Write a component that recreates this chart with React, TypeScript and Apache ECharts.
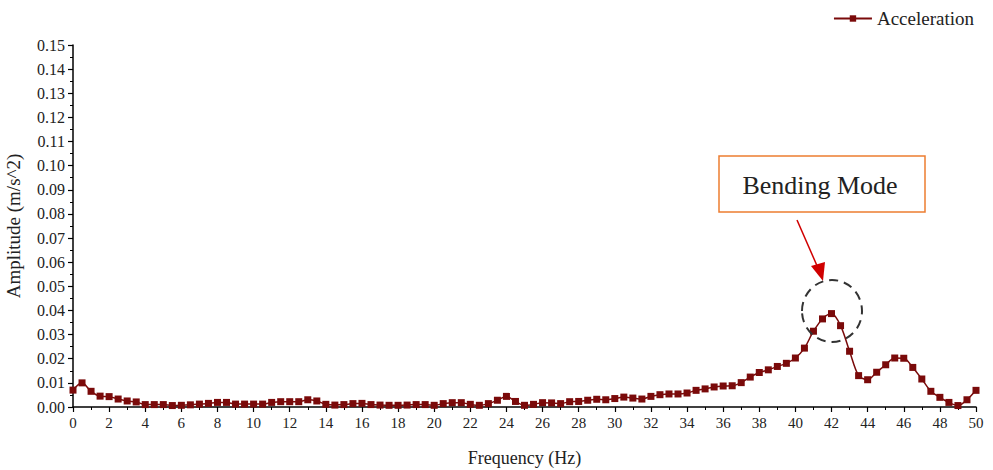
import React, { useEffect, useRef } from "react";
import * as echarts from "echarts";

const frequencies = [
  0, 0.5, 1, 1.5, 2, 2.5, 3, 3.5, 4, 4.5, 5, 5.5, 6, 6.5, 7, 7.5, 8, 8.5, 9, 9.5,
  10, 10.5, 11, 11.5, 12, 12.5, 13, 13.5, 14, 14.5, 15, 15.5, 16, 16.5, 17, 17.5, 18, 18.5, 19, 19.5,
  20, 20.5, 21, 21.5, 22, 22.5, 23, 23.5, 24, 24.5, 25, 25.5, 26, 26.5, 27, 27.5, 28, 28.5, 29, 29.5,
  30, 30.5, 31, 31.5, 32, 32.5, 33, 33.5, 34, 34.5, 35, 35.5, 36, 36.5, 37, 37.5, 38, 38.5, 39, 39.5,
  40, 40.5, 41, 41.5, 42, 42.5, 43, 43.5, 44, 44.5, 45, 45.5, 46, 46.5, 47, 47.5, 48, 48.5, 49, 49.5, 50,
];

const acceleration = [
  0.007, 0.01, 0.0065, 0.0045, 0.0043, 0.0033, 0.0025, 0.0021, 0.001, 0.001,
  0.001, 0.0006, 0.0007, 0.0009, 0.0012, 0.0015, 0.0019, 0.0019, 0.0012, 0.0012,
  0.0012, 0.0012, 0.0019, 0.0022, 0.0022, 0.0022, 0.003, 0.0025, 0.0011, 0.0008,
  0.001, 0.0014, 0.0015, 0.001, 0.0008, 0.0007, 0.0007, 0.0008, 0.001, 0.001,
  0.0007, 0.0014, 0.0018, 0.0018, 0.0011, 0.0007, 0.0014, 0.0028, 0.0044, 0.0023,
  0.0007, 0.0011, 0.0018, 0.0017, 0.0014, 0.0022, 0.0023, 0.0028, 0.0032, 0.003,
  0.0035, 0.0041, 0.0037, 0.0033, 0.0044, 0.0051, 0.0054, 0.0054, 0.0058, 0.0069,
  0.0075, 0.0083, 0.0087, 0.0088, 0.0101, 0.0124, 0.0143, 0.0154, 0.0168, 0.0181,
  0.0203, 0.0244, 0.0314, 0.0365, 0.0387, 0.0337, 0.0231, 0.013, 0.0113, 0.0144,
  0.0175, 0.0203, 0.0202, 0.0164, 0.0116, 0.0065, 0.004, 0.0019, 0.0006, 0.003,
  0.0069,
];

const seriesName = "Acceleration";
const xAxisName = "Frequency (Hz)";
const yAxisName = "Amplitude (m/s^2)";
const annotationText = "Bending Mode";

const FONT = "'Liberation Serif', 'Times New Roman', serif";
const LINE_COLOR = "#7a0a0a";

export default function App() {
  const ref = useRef<HTMLDivElement>(null);

  useEffect(() => {
    if (!ref.current) return;
    const chart = echarts.init(ref.current, undefined, { renderer: "svg" });
    const data = frequencies.map((f, i) => [f, acceleration[i]]);
    chart.setOption({
      animation: false,
      backgroundColor: "#ffffff",
      textStyle: { fontFamily: FONT },
      legend: {
        right: 14,
        top: 4,
        itemWidth: 38,
        itemHeight: 8,
        itemGap: 10,
        textStyle: { fontFamily: FONT, fontSize: 19, color: "#222" },
        data: [seriesName],
      },
      grid: {
        left: 73,
        right: 17,
        top: 45,
        bottom: 63,
        containLabel: false,
        outerBoundsMode: "none",
      },
      xAxis: {
        type: "value",
        min: 0,
        max: 50,
        interval: 2,
        name: xAxisName,
        nameLocation: "middle",
        nameGap: 42,
        nameTextStyle: { fontFamily: FONT, fontSize: 18, color: "#222" },
        axisLine: { show: true, lineStyle: { color: "#000", width: 1.5 } },
        axisTick: { show: true, length: 5, lineStyle: { color: "#000", width: 1.2 } },
        minorTick: { show: true, splitNumber: 2, length: 3, lineStyle: { color: "#000", width: 1 } },
        axisLabel: { fontFamily: FONT, fontSize: 15, color: "#222", margin: 8 },
        splitLine: { show: false },
      },
      yAxis: {
        type: "value",
        min: 0,
        max: 0.15,
        interval: 0.01,
        name: yAxisName,
        nameLocation: "middle",
        nameGap: 50,
        nameTextStyle: { fontFamily: FONT, fontSize: 19, color: "#222" },
        axisLine: { show: true, lineStyle: { color: "#000", width: 1.5 } },
        axisTick: { show: true, length: 5, lineStyle: { color: "#000", width: 1.2 } },
        minorTick: { show: true, splitNumber: 2, length: 3, lineStyle: { color: "#000", width: 1 } },
        axisLabel: {
          fontFamily: FONT,
          fontSize: 16,
          color: "#222",
          margin: 8,
          formatter: (v: number) => v.toFixed(2),
        },
        splitLine: { show: false },
      },
      series: [
        {
          name: seriesName,
          type: "line",
          data,
          smooth: 0.3,
          symbol: "rect",
          symbolSize: 7,
          itemStyle: { color: LINE_COLOR },
          lineStyle: { color: LINE_COLOR, width: 1.5 },
        },
      ],
      graphic: [
        {
          type: "rect",
          shape: { x: 719, y: 156, width: 206, height: 56 },
          style: { fill: "#fff", stroke: "#ED7D31", lineWidth: 1.5 },
          z: 10,
        },
        {
          type: "text",
          x: 820,
          y: 185,
          style: {
            text: annotationText,
            fontFamily: FONT,
            fontSize: 26,
            fill: "#222",
            align: "center",
            verticalAlign: "middle",
          },
          z: 11,
        },
        {
          type: "line",
          shape: { x1: 797, y1: 220, x2: 818, y2: 268 },
          style: { stroke: "#d00000", lineWidth: 1.5 },
          z: 10,
        },
        {
          type: "polygon",
          shape: { points: [[811, 266], [825, 262], [823, 281]] },
          style: { fill: "#d00000" },
          z: 10,
        },
        {
          type: "ellipse",
          shape: { cx: 832, cy: 311, rx: 30, ry: 31 },
          style: { fill: "none", stroke: "#333", lineWidth: 2, lineDash: [9, 6] },
          z: 10,
        },
      ],
    });
    return () => chart.dispose();
  }, []);

  return (
    <div
      ref={ref}
      style={{ position: "absolute", left: 0, top: 0, width: 993, height: 470 }}
    />
  );
}
